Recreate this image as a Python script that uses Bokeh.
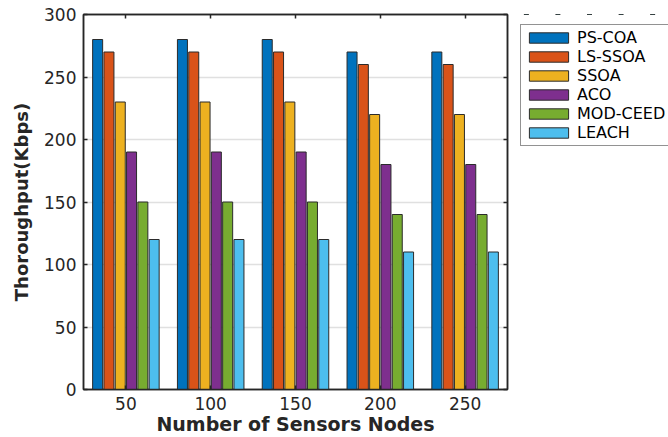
from bokeh.plotting import figure
from bokeh.layouts import row
from bokeh.models import (ColumnDataSource, Legend, LegendItem, LinearAxis,
                          Range1d)
from bokeh.transform import dodge
from bokeh.embed import file_html
from bokeh.resources import INLINE

categories = ["50", "100", "150", "200", "250"]
series_names = ["PS-COA", "LS-SSOA", "SSOA", "ACO", "MOD-CEED", "LEACH"]
ps_coa = [280, 280, 280, 270, 270]
ls_ssoa = [270, 270, 270, 260, 260]
ssoa = [230, 230, 230, 220, 220]
aco = [190, 190, 190, 180, 180]
mod_ceed = [150, 150, 150, 140, 140]
leach = [120, 120, 120, 110, 110]
y_ticks = [0, 50, 100, 150, 200, 250, 300]
colors = ["#0072BD", "#D95319", "#EDB120", "#7E2F8E", "#77AC30", "#4DBEEE"]
keys = ["ps_coa", "ls_ssoa", "ssoa", "aco", "mod_ceed", "leach"]

xpos = list(range(1, len(categories) + 1))
source = ColumnDataSource(dict(x=xpos, ps_coa=ps_coa, ls_ssoa=ls_ssoa,
                               ssoa=ssoa, aco=aco, mod_ceed=mod_ceed, leach=leach))

TXT = "#262626"
EDGE = "#2b2b2b"
p = figure(x_range=Range1d(0.5, len(categories) + 0.5), y_range=Range1d(0, 300),
           width=510, height=437, output_backend="svg", toolbar_location=None,
           min_border_left=83, min_border_right=3, min_border_top=14,
           min_border_bottom=47)
p.background_fill_color = "white"
p.border_fill_color = "white"
p.outline_line_color = TXT
p.outline_line_width = 1.5

step = 0.1333
width = 0.118
for i, (k, c) in enumerate(zip(keys, colors)):
    off = (i - 2.5) * step
    p.vbar(x=dodge("x", off), top=k, width=width,
           source=source, fill_color=c, line_color=EDGE, line_width=1)

p.xgrid.grid_line_color = None
p.ygrid.grid_line_color = "#e0e0e0"
p.ygrid.grid_line_width = 1.5

for ax in (p.xaxis[0], p.yaxis[0]):
    ax.axis_line_color = TXT
    ax.axis_line_width = 1.5
    ax.major_tick_in = 4
    ax.major_tick_out = 0
    ax.major_tick_line_color = TXT
    ax.major_tick_line_width = 1.5
    ax.minor_tick_line_color = None
    ax.major_label_text_font = "DejaVu Sans"
    ax.major_label_text_font_size = "17px"
    ax.major_label_text_color = TXT
    ax.axis_label_text_font = "DejaVu Sans"
    ax.axis_label_text_font_style = "bold"
    ax.axis_label_text_color = TXT

p.yaxis[0].ticker = y_ticks
p.yaxis[0].axis_label = "Thoroughput(Kbps)"
p.yaxis[0].axis_label_text_font_size = "18px"
p.yaxis[0].major_label_standoff = 7
p.yaxis[0].axis_label_standoff = 9
p.xaxis[0].ticker = xpos
p.xaxis[0].major_label_overrides = dict(zip(xpos, categories))
p.xaxis[0].axis_label = "Number of Sensors Nodes"
p.xaxis[0].axis_label_text_font_size = "19px"
p.xaxis[0].major_label_standoff = 7
p.xaxis[0].axis_label_standoff = 0

ra = LinearAxis(ticker=y_ticks, major_label_overrides={t: "" for t in y_ticks})
ta = LinearAxis(ticker=xpos, major_label_overrides={t: "" for t in xpos})
for ax in (ra, ta):
    ax.major_label_standoff = 0
    ax.axis_line_color = TXT
    ax.axis_line_width = 1.5
    ax.major_tick_in = 4
    ax.major_tick_out = 0
    ax.major_tick_line_color = TXT
    ax.major_tick_line_width = 1.5
    ax.minor_tick_line_color = None
p.add_layout(ra, "right")
p.add_layout(ta, "above")

# legend panel: same series drawn outside its visible range, only swatches show
leg = figure(width=158, height=437, output_backend="svg", toolbar_location=None,
             title=None, x_axis_location=None, y_axis_location=None,
             x_range=Range1d(0.5, len(categories) + 0.5),
             y_range=Range1d(-600, -300),
             min_border_left=0, min_border_right=0, min_border_top=0,
             min_border_bottom=0)
leg.outline_line_color = None
leg.background_fill_color = "white"
leg.border_fill_color = "white"
leg.grid.grid_line_color = None
items = []
for k, name, c in zip(keys, series_names, colors):
    r = leg.vbar(x="x", top=k, width=width, source=source,
                 fill_color=c, line_color=EDGE, line_width=1)
    items.append(LegendItem(label=name, renderers=[r]))

legend = Legend(items=items, location="top_left")
legend.label_text_font = "DejaVu Sans"
legend.label_text_font_size = "16px"
legend.label_text_color = "black"
legend.glyph_width = 49
legend.glyph_height = 13
legend.label_height = 14
legend.label_standoff = 4
legend.padding = 3
legend.spacing = 0
legend.margin = 10
legend.border_line_color = TXT
legend.border_line_width = 1.5
legend.background_fill_alpha = 1
leg.add_layout(legend, "center")

layout = row(p, leg, spacing=0)
open("out.html", "w").write(file_html(layout, INLINE))
